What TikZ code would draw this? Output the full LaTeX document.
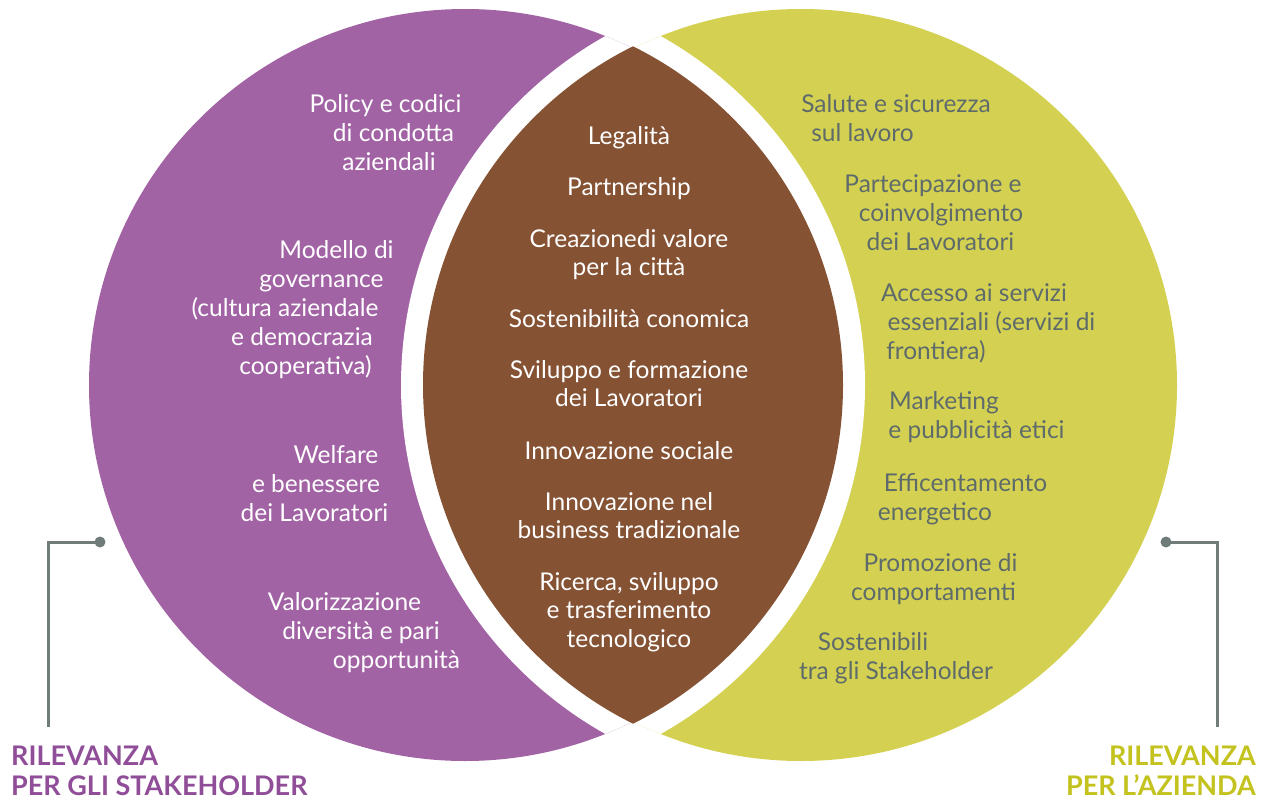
\documentclass[tikz,border=0pt]{standalone}
\usepackage{fontspec}
\setmainfont{Lato}
\definecolor{StakeClr}{HTML}{A263A5}
\definecolor{StakeTxt}{HTML}{904E98}
\definecolor{AzClr}{HTML}{D4D152}
\definecolor{AzTxt}{HTML}{C3C21E}
\definecolor{LensClr}{HTML}{855234}
\definecolor{ItemClr}{HTML}{5E6B6A}
\definecolor{LineClr}{HTML}{6F7C79}

\begin{document}
\begin{tikzpicture}[x=1pt,y=-1pt,
  item/.style={font=\fontsize{24.5}{29}\selectfont,anchor=base,inner sep=0pt},
  title/.style={font=\fontsize{27}{31}\selectfont\bfseries,inner sep=0pt},
  conn/.style={line width=3pt,color=LineClr}]
\useasboundingbox (0,0) rectangle (1271,800);

% Centri dei due cerchi.
\coordinate (CL) at (465,385);
\coordinate (CR) at (801,385);

\fill[StakeClr] (CL) circle (376pt);
\fill[AzClr] (CR) circle (376pt);

% Bordi bianchi attorno alla lente.
\begin{scope}
\clip (CL) circle (376pt);
\fill[white] (CR) circle (400pt);
\end{scope}
\begin{scope}
\clip (CR) circle (376pt);
\fill[white] (CL) circle (400pt);
\end{scope}
\begin{scope}
\clip (CL) circle (378pt);
\fill[LensClr] (CR) circle (378pt);
\end{scope}

% Temi: rilevanza per gli stakeholder.
\foreach \cx/\cy/\t [count=\i] in {
  385.5/112/Policy e codici, 393.5/141/di condotta, 389/170/aziendali,
  336.5/258/Modello di, 321.5/287/governance, 285/316/(cultura aziendale,
  302/345/e democrazia, 305.5/374/cooperativa),
  336/463/Welfare, 316/492/e benessere, 314.5/521/dei Lavoratori,
  344.5/610/Valorizzazione, 361/639/diversità e pari, 396.5/668/opportunità}
  \node[item,text=white] (st\i) at (\cx,\cy) {\t};

% Temi comuni.
\foreach \cy/\t [count=\i] in {
  144/Legalità, 195/Partnership, 247/Creazionedi valore, 275/per la città,
  327/Sostenibilità conomica, 378/Sviluppo e formazione, 406/dei Lavoratori,
  459/Innovazione sociale, 510/Innovazione nel, 538/business tradizionale,
  590/{Ricerca, sviluppo}, 618/e trasferimento, 647/tecnologico}
  \node[item,text=white] (cm\i) at (629,\cy) {\t};

% Temi: rilevanza per l'azienda.
\foreach \cx/\cy/\t [count=\i] in {
  896/112/Salute e sicurezza, 862.5/141/sul lavoro,
  933/192/Partecipazione e, 941/221/coinvolgimento, 940.5/250/dei Lavoratori,
  974/301/Accesso ai servizi, 991.5/330/essenziali (servizi di, 936/359/frontiera),
  944/409/Marketing, 976.5/438/e pubblicità etici,
  965.5/491/Efficentamento, 935/520/energetico,
  940.5/571/Promozione di, 933.5/600/comportamenti,
  873/650/Sostenibili, 896/679/tra gli Stakeholder}
  \node[item,text=ItemClr] (az\i) at (\cx,\cy) {\t};

% Titoli.
\node[title,anchor=base west,text=StakeTxt] (stk1) at (11,765) {RILEVANZA};
\node[title,anchor=base west,text=StakeTxt] (stk2) at (11,795) {PER GLI STAKEHOLDER};
\node[title,anchor=base east,text=AzTxt] (azi1) at (1256,765) {RILEVANZA};
\node[title,anchor=base east,text=AzTxt] (azi2) at (1256,795) {PER L’AZIENDA};

% Collegamenti.
\coordinate (ldot) at (100,542);
\coordinate (lfoot) at (48,727);
\coordinate (rdot) at (1166,542);
\coordinate (rfoot) at (1217,727);
\draw[conn] (ldot) -| (lfoot);
\draw[conn] (rdot) -| (rfoot);
\fill[LineClr] (ldot) circle (5.5pt);
\fill[LineClr] (rdot) circle (5.5pt);

\end{tikzpicture}
\end{document}
